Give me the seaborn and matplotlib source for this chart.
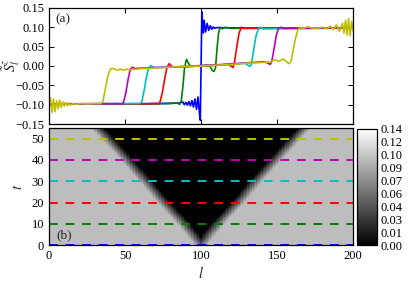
import numpy as np
import seaborn as sns
import matplotlib.pyplot as plt

sns.set_style("ticks")
plt.rcParams['font.family'] = ['Liberation Serif', 'DejaVu Serif']
plt.rcParams['mathtext.fontset'] = 'stix'
plt.rcParams['font.size'] = 9
plt.rcParams['axes.edgecolor'] = 'black'
plt.rcParams['xtick.color'] = 'black'
plt.rcParams['ytick.color'] = 'black'

# ---- panel (a): magnetization profiles at t = 0, 10, ..., 50 ----
snap_times = [0, 10, 20, 30, 40, 50]
snap_colors = ['b', 'g', 'r', 'c', 'm', 'y']

l_t0 = [0, 40, 70, 85, 88, 89, 90, 91, 92, 93, 94, 95, 96, 97, 98, 99, 99.5, 100,
        100.5, 101, 101.5, 102, 103, 104, 105, 106, 107, 108, 109, 110, 130, 200]
s_t0 = [-0.098, -0.098, -0.097, -0.096, -0.093, -0.1, -0.094, -0.101, -0.092, -0.103,
        -0.089, -0.106, -0.085, -0.112, -0.08, -0.125, -0.14, 0.0,
        0.14, 0.11, 0.085, 0.118, 0.088, 0.11, 0.092, 0.104, 0.095, 0.101, 0.097, 0.099, 0.098, 0.098]

l_t10 = [0, 60, 80, 84, 86, 87, 88, 89, 90, 90.5, 91.5, 93, 96, 100, 104, 106, 107.5,
         108.5, 109.5, 110.5, 111.5, 112.5, 114, 116, 120, 140, 200]
s_t10 = [-0.098, -0.098, -0.097, -0.095, -0.099, -0.09, -0.055, -0.01, 0.012, 0.017, 0.008,
         0.0, 0.0, 0.001, 0.002, -0.002, -0.012, -0.014, -0.005, 0.045, 0.085, 0.1,
         0.096, 0.1, 0.097, 0.098, 0.098]

l_t20 = [0, 60, 70, 72, 73, 74.5, 76, 77.5, 79, 80.5, 82, 90, 100, 110, 118, 120, 121,
         122, 123.5, 125, 126.5, 128, 200]
s_t20 = [-0.098, -0.098, -0.097, -0.098, -0.093, -0.07, -0.035, -0.005, 0.006, 0.0, -0.003,
         -0.002, 0.0, 0.002, 0.004, -0.001, -0.004, 0.01, 0.05, 0.085, 0.1, 0.097, 0.098]

l_t30 = [0, 55, 60, 61, 62.5, 64, 65.5, 67, 68.5, 70, 80, 100, 120, 129, 130.5, 132, 133,
         134.5, 136, 137.5, 139, 141, 200]
s_t30 = [-0.098, -0.097, -0.097, -0.093, -0.065, -0.03, -0.005, 0.001, -0.003, -0.004,
         -0.003, 0.0, 0.004, 0.007, 0.003, -0.001, 0.003, 0.04, 0.075, 0.095, 0.1, 0.096, 0.098]

l_t40 = [0, 45, 48, 49, 50.5, 52, 53.5, 55, 56.5, 58, 70, 90, 110, 130, 141, 143, 145.5,
         146.5, 148, 149.5, 151, 152.5, 154, 200]
s_t40 = [-0.098, -0.097, -0.098, -0.094, -0.07, -0.035, -0.008, -0.003, -0.007, -0.006,
         -0.004, -0.001, 0.003, 0.008, 0.011, 0.009, 0.004, 0.012, 0.045, 0.08, 0.098, 0.1,
         0.097, 0.098]

l_t50 = [0, 1, 2, 3, 4, 5, 6, 7, 8, 9, 10, 11, 12, 13, 14, 16, 18, 20, 25, 30, 34, 35.5,
         37, 38.5, 40, 41.5, 43, 45, 47, 49, 51, 53, 56, 60, 70, 80, 90, 100, 110, 120,
         130, 140, 146, 148.5, 151, 154, 156, 157.5, 159, 160.5, 162, 163.5, 165, 167,
         170, 175, 180, 183, 185, 187, 189, 191, 193, 194, 195, 196, 197, 198, 199, 200]
s_t50 = [-0.1, -0.082, -0.12, -0.085, -0.118, -0.09, -0.11, -0.088, -0.107, -0.092, -0.104,
         -0.094, -0.102, -0.095, -0.101, -0.097, -0.099, -0.097, -0.098, -0.097, -0.097,
         -0.092, -0.06, -0.03, -0.01, -0.006, -0.008, -0.011, -0.008, -0.011, -0.008,
         -0.01, -0.009, -0.007, -0.005, -0.003, -0.001, 0.0, 0.002, 0.004, 0.007, 0.009,
         0.011, 0.016, 0.012, 0.018, 0.012, 0.006, 0.01, 0.04, 0.07, 0.092, 0.1, 0.097,
         0.101, 0.097, 0.1, 0.096, 0.103, 0.094, 0.106, 0.09, 0.11, 0.085, 0.118, 0.08,
         0.122, 0.078, 0.115, 0.09]

profiles = [(l_t0, s_t0), (l_t10, s_t10), (l_t20, s_t20),
            (l_t30, s_t30), (l_t40, s_t40), (l_t50, s_t50)]

# ---- panel (b): light cone, front positions ----
front_t = [0, 10, 20, 30, 40, 50, 55]
front_left = [100, 88.5, 75.5, 63.5, 51.5, 38.5, 32]
front_right = [100, 111, 124.5, 136, 149, 161.5, 168]
inside_val = 0.0
outside_val = 0.1
edge_w = 4.5

cb_ticks = [0.0, 0.015, 0.03, 0.045, 0.06, 0.075, 0.09, 0.105, 0.12, 0.135]
cb_labels = ['0.00', '0.01', '0.03', '0.04', '0.06', '0.07', '0.09', '0.10', '0.12', '0.14']

sites = np.arange(0, 201)
times = np.arange(0, 55.25, 0.25)
left = np.interp(times, front_t, front_left)
right = np.interp(times, front_t, front_right)
dist = np.maximum(left[:, None] - sites[None, :], sites[None, :] - right[:, None])
field = inside_val + (outside_val - inside_val) * np.clip((dist + edge_w) / (2 * edge_w), 0, 1)

fig = plt.figure(figsize=(4.15, 2.82), dpi=100)
ax1 = fig.add_axes([0.118, 0.560, 0.733, 0.412])
ax2 = fig.add_axes([0.118, 0.131, 0.733, 0.415])
cax = fig.add_axes([0.860, 0.131, 0.048, 0.413])

for (lx, sy), c in zip(profiles, snap_colors):
    sns.lineplot(x=lx, y=sy, color=c, lw=1.2, ax=ax1, sort=False, estimator=None)

ax1.set_xlim(0, 200)
ax1.set_ylim(-0.15, 0.15)
ax1.set_yticks([-0.15, -0.10, -0.05, 0.0, 0.05, 0.10, 0.15])
ax1.set_xticks([0, 50, 100, 150, 200])
ax1.set_xticklabels([])
ax1.set_ylabel(r'$\tilde{S}^z_l$', va='center', fontsize=10.5)
ax1.yaxis.set_label_coords(-0.125, 0.51)
ax1.text(0.022, 0.9, '(a)', transform=ax1.transAxes, va='center', ha='left', fontsize=9.5)

edges_l = np.arange(-0.5, 201.5, 1.0)
edges_t = np.arange(0, 55.5, 0.25)
mesh = ax2.pcolormesh(edges_l, edges_t, field, cmap='gray', vmin=0, vmax=0.135,
                      shading='flat', rasterized=True)
for t, c in zip(snap_times, snap_colors):
    ax2.axhline(t, color=c, lw=1.4, dashes=(4.5, 4.0))
ax2.set_xlim(0, 200)
ax2.set_ylim(0, 55)
ax2.set_xticks([0, 50, 100, 150, 200])
ax2.set_yticks([0, 10, 20, 30, 40, 50])
ax2.set_xlabel(r'$l$', va='center', fontsize=10.5)
ax2.xaxis.set_label_coords(0.5, -0.235)
ax2.set_ylabel(r'$t$', va='center', fontsize=10.5)
ax2.yaxis.set_label_coords(-0.10, 0.5)
ax2.text(0.025, 0.085, '(b)', transform=ax2.transAxes, va='center', ha='left', fontsize=9.5)

for ax in (ax1, ax2):
    ax.tick_params(direction='in', top=True, right=True, length=3.5, width=0.7)
    for sp in ax.spines.values():
        sp.set_linewidth(0.9)

cb = fig.colorbar(mesh, cax=cax, ticks=cb_ticks)
cb.ax.set_yticklabels(cb_labels)
cb.ax.tick_params(direction='in', length=3, width=0.7, pad=3)
cb.outline.set_linewidth(0.9)

fig.savefig('out.png', dpi=100)
